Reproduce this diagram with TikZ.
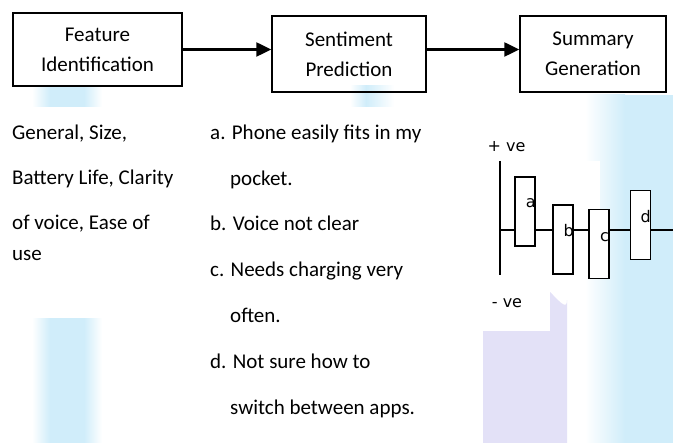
\documentclass[tikz,border=0pt]{standalone}
\usepackage{fontspec}
\setmainfont{Carlito}
\newfontfamily\chartfont{DejaVu Sans}
\usetikzlibrary{positioning}
\usetikzlibrary{arrows.meta}

\definecolor{wmblue}{RGB}{208,237,250}
\definecolor{wmlilac}{RGB}{227,225,247}

\tikzset{
  stage/.style={draw, line width=1.5pt, align=center, inner sep=0pt,
                font=\fontsize{21}{30}\selectfont},
  flow/.style={line width=2.5pt, -{Triangle[length=15pt,width=14pt]}},
  coltext/.style={anchor=north west, align=left, inner sep=0pt},
  bar/.style={draw, fill=white, line width=1.6pt, inner sep=0pt,
              minimum width=20pt, minimum height=69pt},
  barlabel/.style={anchor=east, inner sep=0pt, font=\chartfont\fontsize{16}{16}\selectfont},
}

\begin{document}
\begin{tikzpicture}[x=1pt,y=-1pt]
    \useasboundingbox (0,0) rectangle (673,443);

    % watermark behind the page
    \shade[left color=white, right color=wmblue] (32,86) rectangle (50,443);
    \fill[wmblue] (50,86) rectangle (84,443);
    \shade[left color=wmblue, right color=white] (84,86) rectangle (102,443);
    \shade[left color=white, right color=wmblue] (350,86) rectangle (366,107);
    \shade[left color=wmblue, right color=white] (366,86) rectangle (394,107);
    \shade[left color=white, right color=wmblue] (585,95) rectangle (625,443);
    \fill[wmblue] (625,95) rectangle (673,443);
    \fill[wmlilac] (483,443) -- (483,300) to[out=-90,in=180] (525,276)
                   to[out=0,in=-90] (567,300) -- (567,443) -- cycle;
    \fill[white] (0,107) rectangle (190,318);
    \fill[white] (190,107) rectangle (472,443);
    \fill[white] (472,161) rectangle (600,278);
    \fill[white] (472,278) rectangle (550,331);

    % pipeline
    \node[stage, minimum width=169pt, minimum height=73pt] (feat) at (97.5,49.5) {Feature\\Identification};
    \node[stage, minimum width=154pt, minimum height=76pt] (sent) at (349,54) {Sentiment\\Prediction};
    \node[stage, minimum width=146pt, minimum height=76pt] (summ) at (593,54) {Summary\\Generation};

    \draw[flow] (feat.east) -- (feat.east -| sent.west);
    \draw[flow] (feat.east -| sent.east) -- (feat.east -| summ.west);

    % features and reviews
    \node[coltext, font=\fontsize{21}{45}\selectfont] (features) at (12,124.5)
        {General, Size,\\Battery Life, Clarity\\of voice, Ease of\\[-14pt]use};
    \node[coltext, font=\fontsize{21}{45.8}\selectfont] (reviews) at (210,124.5)
        {a. Phone easily fits in my\\\hspace*{20pt}pocket.\\b. Voice not clear\\c. Needs charging very\\
         \hspace*{20pt}often.\\d. Not sure how to\\\hspace*{20pt}switch between apps.};

    % polarity chart
    \coordinate (axtop) at (500,161);
    \coordinate (axbot) at (500,275);
    \coordinate (axmid) at (500,230);
    \coordinate (axend) at (673,230);
    \draw[line width=1.6pt] (axtop) -- (axbot);
    \draw[line width=1.6pt] (axmid) -- (axend);

    \node[bar] (bar_a) at (525,211.5) {};
    \node[bar] (bar_b) at (563,239.5) {};
    \node[bar] (bar_c) at (599,244) {};
    \node[bar] (bar_d) at (640.5,225) {};

    \node[barlabel] at (536,203) {a};
    \node[barlabel] at (574,231) {b};
    \node[barlabel] at (609,237) {c};
    \node[barlabel] at (651,217) {d};

    \node[font=\chartfont\fontsize{16}{16}\selectfont, inner sep=0pt] (pos) at (506.5,147) {+ ve};
    \node[font=\chartfont\fontsize{16}{16}\selectfont, inner sep=0pt] (neg) at (507,303) {- ve};
\end{tikzpicture}
\end{document}
